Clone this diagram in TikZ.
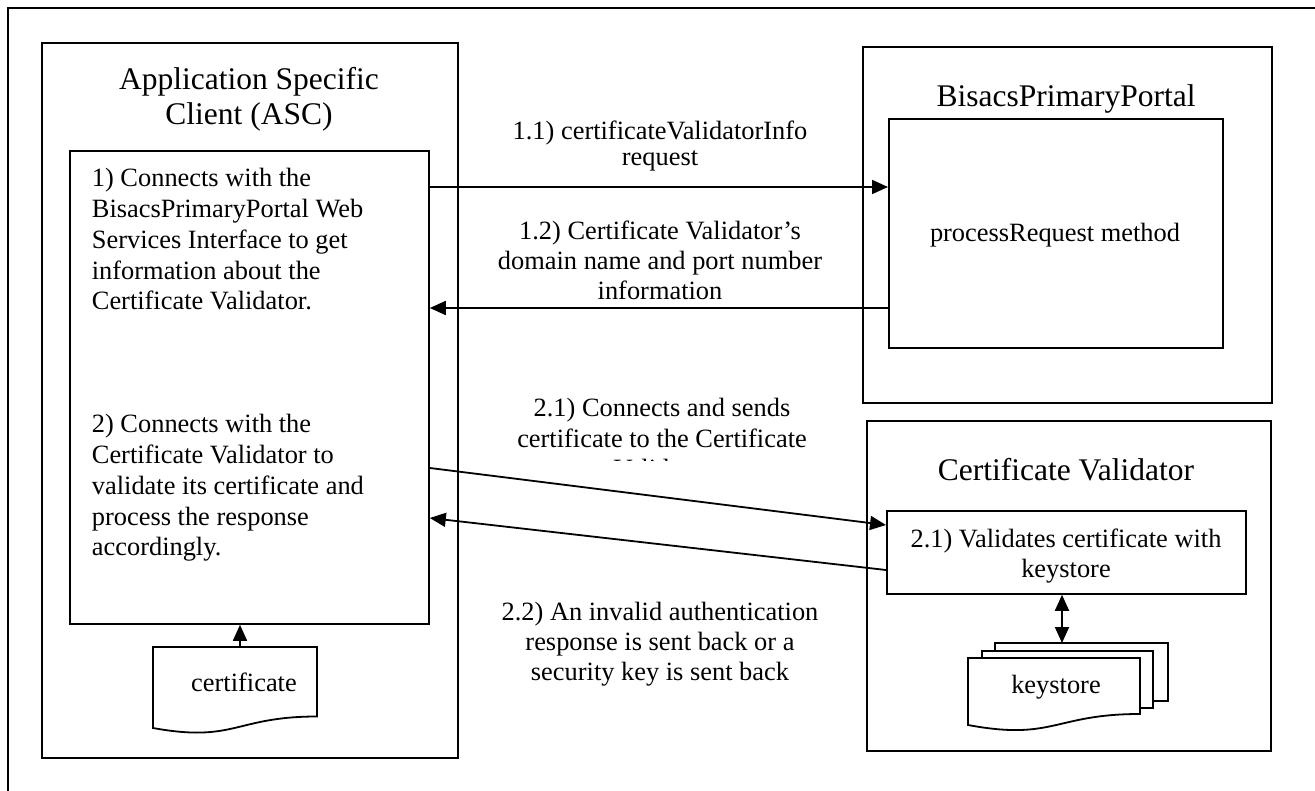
\documentclass[tikz,border=0pt]{standalone}
\usepackage{fontspec}
\setmainfont{Liberation Serif}
\usetikzlibrary{arrows.meta}

\begin{document}
\begin{tikzpicture}[x=1pt,y=-1pt,line width=1.8pt,
  rect/.style={draw,line width=1.8pt,anchor=north west,inner sep=0pt,minimum width=#1},
  body/.style={font=\fontsize{26.4}{30.4}\selectfont,inner sep=0pt},
  head/.style={font=\fontsize{31.5}{36.2}\selectfont,inner sep=0pt},
  wtip/.tip={Triangle[length=16pt,width=14pt]},
  arr/.style={-{wtip},line width=1.8pt},
  darr/.style={{wtip}-{wtip},line width=1.8pt},
  doc/.style={draw,fill=white,line width=1.8pt},
]
\useasboundingbox (0,0) rectangle (1315,791);

% page frame
\draw (8,791) -- (8,8) -- (1315,8);

% ---------- Application Specific Client ----------
\node[rect=416pt,minimum height=715pt] (asc) at (41,42) {};
\node[head,anchor=base] (ascT1) at (249,90) {Application Specific};
\node[head,anchor=base] (ascT2) at (249,125) {Client (ASC)};
\node[rect=359pt,minimum height=473pt] (inner) at (69,150) {};

\foreach \t [count=\i] in {1) Connects with the,BisacsPrimaryPortal Web,
    Services Interface to get,information about the,Certificate Validator.}
  \node[body,anchor=base west] (stepA\i) at (91,{187+30.7*(\i-1)}) {\t};
\foreach \t [count=\i] in {2) Connects with the,Certificate Validator to,
    validate its certificate and,process the response,accordingly.}
  \node[body,anchor=base west] (stepB\i) at (91,{433+30.7*(\i-1)}) {\t};

% certificate document
\draw[doc] (153,647) -- (317,647) -- (317,716.5)
  .. controls (235,716.5) and (235,743) .. (153,728) -- cycle;
\node[body,anchor=base] (cert) at (244,691) {certificate};
\coordinate (certtop) at (240,647);
\draw[arr] (certtop) -- (inner.south -| certtop);

% ---------- BisacsPrimaryPortal ----------
\node[rect=409pt,minimum height=356pt] (bpp) at (862,46) {};
\node[head,anchor=base] (bppT) at (1066,107) {BisacsPrimaryPortal};
\node[rect=334pt,minimum height=229pt] (pr) at (888,118) {};
\node[body,anchor=base] (prT) at (1055,242) {processRequest method};

% ---------- Certificate Validator ----------
\node[rect=404pt,minimum height=330pt] (cv) at (866,420) {};
\node[head,anchor=base] (cvT) at (1066,480) {Certificate Validator};
\node[rect=359pt,minimum height=83pt] (val) at (886,510) {};
\node[body,anchor=base] (valT1) at (1066,547) {2.1) Validates certificate with};
\node[body,anchor=base] (valT2) at (1066,577) {keystore};

% keystore stack (two sheets behind the front page)
\draw[doc] (995,643) -- (1168,643) -- (1168,701) -- (1153,701)
  -- (1153,651) -- (995,651) -- cycle;
\draw[doc] (982,651) -- (1153,651) -- (1153,708) -- (1140,708)
  -- (1140,658) -- (982,658) -- cycle;
\draw[doc] (968,658) -- (1140,658) -- (1140,714)
  .. controls (1054,714) and (1054,741) .. (968,725) -- cycle;
\node[body,anchor=base] (ks) at (1056,693) {keystore};
\coordinate (kstop) at (1062,643);
\draw[darr] (val.south -| kstop) -- (kstop);

% ---------- messages ----------
\coordinate (m11) at (0,187);
\coordinate (m12) at (0,308);
\draw[arr] (inner.east |- m11) -- (pr.west |- m11);
\draw[arr] (pr.west |- m12) -- (inner.east |- m12);
\coordinate (m21a) at (0,468);
\coordinate (m21b) at (0,525);
\coordinate (m22a) at (0,570);
\coordinate (m22b) at (0,518);
\draw[arr] (inner.east |- m21a) -- (val.west |- m21b);
\draw[arr] (val.west |- m22a) -- (inner.east |- m22b);

\node[body,anchor=base] (l11a) at (660,140) {1.1) certificateValidatorInfo};
\node[body,anchor=base] (l11b) at (660,166) {request};
\node[body,anchor=base] (l12a) at (660,240) {1.2) Certificate Validator’s};
\node[body,anchor=base] (l12b) at (660,270) {domain name and port number};
\node[body,anchor=base] (l12c) at (660,300) {information};
\node[body,anchor=base] (l21a) at (662,417) {2.1) Connects and sends};
\node[body,anchor=base] (l21b) at (662,447) {certificate to the Certificate};
\begin{scope}
  \clip (500,440) rectangle (820,460.5);
  \node[body,anchor=base] (l21c) at (662,477) {Validator};
\end{scope}
\node[body,anchor=base] (l22a) at (660,620) {2.2) An invalid authentication};
\node[body,anchor=base] (l22b) at (660,650) {response is sent back or a};
\node[body,anchor=base] (l22c) at (660,680) {security key is sent back};
\end{tikzpicture}
\end{document}
